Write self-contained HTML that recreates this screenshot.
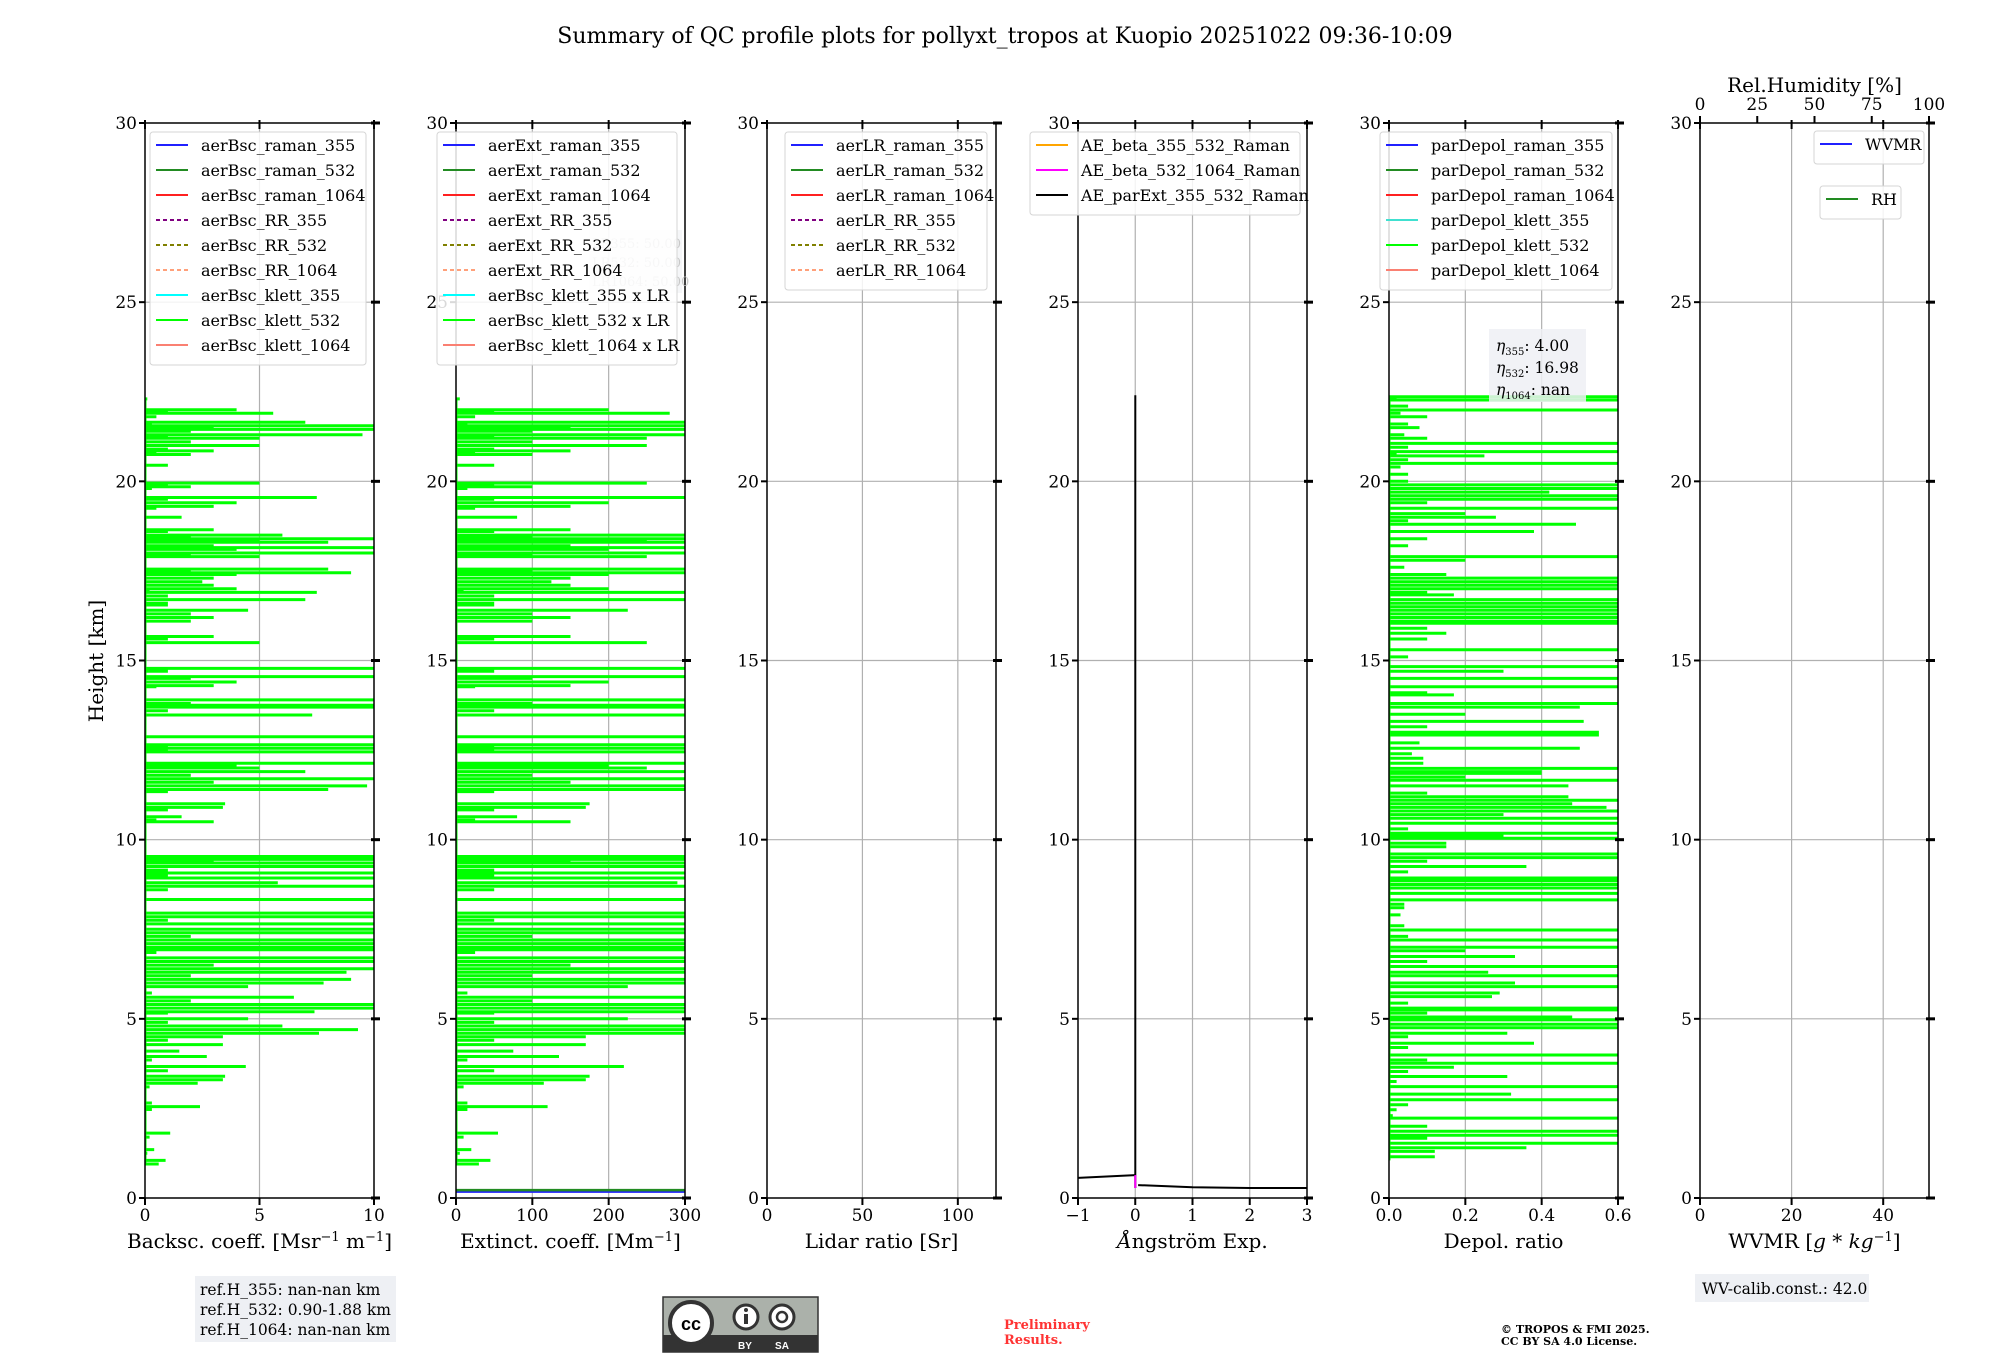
<!DOCTYPE html>
<html><head><meta charset="utf-8">
<style>
html,body{margin:0;padding:0;background:#fff;}
svg{display:block;font-family:"DejaVu Serif","Liberation Serif",serif;}
</style></head>
<body>
<svg id="fig" width="2000" height="1360" viewBox="0 0 2000 1360" xmlns="http://www.w3.org/2000/svg">
<text x="1005" y="43" font-size="22" text-anchor="middle">Summary of QC profile plots for pollyxt_tropos at Kuopio 20251022 09:36-10:09</text>
<text transform="translate(103,661) rotate(-90)" font-size="20" text-anchor="middle">Height [km]</text>
<g id="panels"></g>
<g>
<rect x="195" y="1276" width="201" height="66" fill="#eef0f4"/>
<text x="200" y="1295" font-size="15.5">ref.H_355: nan-nan km</text>
<text x="200" y="1315" font-size="15.5">ref.H_532: 0.90-1.88 km</text>
<text x="200" y="1335" font-size="15.5">ref.H_1064: nan-nan km</text>
</g>
<g>
<rect x="663" y="1297" width="155" height="55" fill="#abb1aa" stroke="#333" stroke-width="1.5"/>
<rect x="663" y="1335" width="155" height="17" fill="#333"/>
<circle cx="691" cy="1323" r="21" fill="#fff" stroke="#333" stroke-width="4"/>
<text x="691" y="1330" font-size="18" font-weight="bold" text-anchor="middle" font-family="Liberation Sans">cc</text>
<circle cx="746" cy="1317" r="12" fill="#fff" stroke="#333" stroke-width="3"/>
<rect x="744" y="1314" width="4" height="10" fill="#333"/><circle cx="746" cy="1310" r="2" fill="#333"/>
<circle cx="782" cy="1317" r="12" fill="#fff" stroke="#333" stroke-width="3"/>
<circle cx="782" cy="1317" r="5" fill="none" stroke="#333" stroke-width="2.5"/>
<text x="745" y="1349" font-size="10" fill="#fff" font-weight="bold" text-anchor="middle" font-family="Liberation Sans">BY</text>
<text x="782" y="1349" font-size="10" fill="#fff" font-weight="bold" text-anchor="middle" font-family="Liberation Sans">SA</text>
</g>
<text x="1004" y="1329" font-size="13" font-weight="bold" fill="#ff3333">Preliminary</text>
<text x="1004" y="1344" font-size="13" font-weight="bold" fill="#ff3333">Results.</text>
<text x="1501" y="1333" font-size="11" font-weight="bold">© TROPOS &amp; FMI 2025.</text>
<text x="1501" y="1345" font-size="11" font-weight="bold">CC BY SA 4.0 License.</text>
<g>
<rect x="1695" y="1274" width="174" height="28" fill="#eef0f4"/>
<text x="1702" y="1294" font-size="15.5">WV-calib.const.: 42.0</text>
</g>
</svg>
<script>
// ---- data ----
const bscHeight=[22.3,22.2,22.0,21.95,21.9,21.8,21.65,21.6,21.55,21.5,21.45,21.4,21.3,21.25,21.2,21.1,21.0,20.9,20.85,20.8,20.75,20.6,20.45,20.4,20.0,19.95,19.9,19.85,19.8,19.6,19.55,19.5,19.4,19.3,19.25,19.0,18.9,18.7,18.65,18.6,18.5,18.45,18.4,18.35,18.3,18.2,18.15,18.1,18.0,17.95,17.9,17.8,17.6,17.55,17.5,17.45,17.4,17.3,17.2,17.1,17.0,16.95,16.9,16.8,16.7,16.6,16.55,16.4,16.3,16.2,16.1,16.0,15.7,15.67,15.6,15.5,15.45,14.9,14.78,14.7,14.55,14.5,14.4,14.3,14.27,14.0,13.9,13.8,13.75,13.7,13.6,13.48,13.4,12.95,12.87,12.8,12.65,12.6,12.55,12.5,12.45,12.4,12.2,12.13,12.05,12.0,11.9,11.8,11.7,11.6,11.5,11.4,11.34,11.1,11.0,10.9,10.83,10.64,10.55,10.5,10.45,9.6,9.53,9.45,9.4,9.35,9.25,9.15,9.07,9.0,8.93,8.8,8.7,8.6,8.5,8.33,8.25,7.95,7.85,7.75,7.65,7.5,7.4,7.3,7.2,7.1,7.0,6.93,6.85,6.7,6.6,6.5,6.4,6.3,6.2,6.1,6.0,5.9,5.72,5.6,5.5,5.4,5.3,5.2,5.16,5.0,4.9,4.8,4.7,4.6,4.5,4.4,4.28,4.1,3.95,3.85,3.67,3.55,3.4,3.3,3.2,3.1,2.65,2.55,2.47,2.2,1.81,1.7,1.35,1.25,1.05,0.95];
const bscValue=[0.1,0,4,1,5.6,0.5,7,0.3,10,3,10,2,9.5,1,5,2,5,1,3,0.5,2,0,1,0,0,5,1,2,0.3,0,7.5,1,4,3,0.5,1.6,0,0,3,1,6,2,10,5,8,3,10,4,10,2,5,0,0,8,2,9,4,3,2.5,3,4,0.2,7.5,1,7,1,1,4.5,2,3,2,0,0,3,1,5,0,0,10,1,10,2,4,3,0.5,0,10,2,10,10,1,7.3,0,0,10,0,10,1,10,1,10,0,0,10,4,5,7,2,10,3,9.7,8,1,0,3.5,3.4,1,1.6,0.5,3,0,0,10,10,3,10,10,1,10,1,10,5.8,10,1,0,10,0,10,10,1,10,10,10,2,10,10,10,10,0.5,10,10,3,10,8.8,2,9,7.8,4.5,0.3,6.5,2,10,10,7.4,1,4.5,1,6,9.3,7.6,3.4,1,3.4,1.5,2.7,0.3,4.4,1,3.5,3.4,2.3,0.2,0.3,2.4,0.3,0,1.1,0.2,0.4,0.1,0.9,0.6];
const lidarRatio=[50,50,50];
const ramanExtHeight=[0.22,0.22];
const ramanExtValue=[0,300];
const aeLeftHeight=[0.56,0.64];
const aeLeftValue=[-1,0];
const aeVertHeight=[22.4,0.28];
const aeVertValue=[0,0];
const aeRightHeight=[0.36,0.3,0.28,0.28];
const aeRightValue=[0.05,1,2,3];
const ae1064Height=[0.64,0.28];
const ae1064Value=[0,0];
const depHeight=[22.36,22.3,22.27,22.1,21.99,21.9,21.8,21.6,21.5,21.3,21.2,21.06,20.95,20.83,20.75,20.71,20.6,20.5,20.4,20.2,20.0,19.9,19.8,19.7,19.6,19.5,19.4,19.25,19.1,19.0,18.9,18.8,18.6,18.4,18.2,17.9,17.8,17.6,17.4,17.3,17.2,17.1,17.0,16.9,16.83,16.7,16.6,16.5,16.4,16.3,16.2,16.1,16.04,15.9,15.76,15.6,15.3,15.1,14.83,14.7,14.5,14.27,14.1,14.04,13.8,13.7,13.5,13.3,13.15,13.0,12.92,12.7,12.55,12.4,12.27,12.13,11.99,11.9,11.85,11.75,11.66,11.5,11.3,11.2,11.1,11.0,10.9,10.8,10.7,10.6,10.46,10.3,10.18,10.1,10.04,9.9,9.8,9.6,9.5,9.4,9.25,9.1,8.93,8.85,8.75,8.65,8.5,8.32,8.2,8.1,7.9,7.6,7.48,7.3,7.2,7.0,6.9,6.74,6.6,6.46,6.3,6.2,6.0,5.9,5.72,5.62,5.44,5.3,5.25,5.16,5.05,4.97,4.85,4.75,4.6,4.5,4.32,4.2,3.99,3.85,3.76,3.65,3.53,3.39,3.25,3.11,2.9,2.74,2.6,2.46,2.3,2.23,2.0,1.86,1.75,1.67,1.53,1.4,1.3,1.15,1.05,0.93];
const depValue=[0.6,0.02,0.6,0.05,0.6,0.03,0.1,0.05,0.08,0.04,0.1,0.6,0.05,0.6,0.02,0.25,0.05,0.6,0.03,0.05,0.05,0.6,0.6,0.42,0.6,0.6,0.1,0.6,0.2,0.28,0.05,0.49,0.38,0.1,0.05,0.6,0.2,0.04,0.15,0.6,0.6,0.6,0.6,0.1,0.17,0.6,0.6,0.6,0.6,0.6,0.6,0.6,0.6,0.1,0.15,0.1,0.6,0.05,0.6,0.3,0.6,0.6,0.1,0.17,0.6,0.5,0.2,0.51,0.1,0.55,0.55,0.08,0.5,0.06,0.09,0.09,0.6,0.4,0.4,0.2,0.6,0.47,0.1,0.47,0.6,0.48,0.57,0.6,0.3,0.6,0.6,0.05,0.6,0.3,0.6,0.15,0.15,0.6,0.6,0.1,0.36,0.05,0.6,0.6,0.6,0.6,0.6,0.6,0.04,0.04,0.03,0.04,0.6,0.05,0.6,0.6,0.2,0.33,0.1,0.6,0.26,0.6,0.33,0.6,0.29,0.27,0.05,0.6,0.6,0.1,0.48,0.6,0.6,0.6,0.31,0.05,0.38,0.05,0.6,0.1,0.6,0.17,0.05,0.31,0.02,0.6,0.32,0.6,0.05,0.02,0.01,0.6,0.1,0.6,0.6,0.1,0.6,0.36,0.12,0.12];
const yTicks=[0,5,10,15,20,25,30];
const bscTicks=[0,5,10];
const extTicks=[0,100,200,300];
const lrTicks=[0,50,100];
const aeTicks=[-1,0,1,2,3];
const depTicks=[0,0.2,0.4,0.6];
const depTickLabels=["0.0","0.2","0.4","0.6"];
const wvTicks=[0,20,40];
const rhTicks=[0,25,50,75,100];

// ---- layout ----
const NS="http://www.w3.org/2000/svg";
const TOP=123,BOT=1198,W=229,H0=0,H1=30;
const LEFTS=[145,456,767,1078,1389,1700];
const root=document.getElementById('panels');
function mk(tag,attrs,parent){const e=document.createElementNS(NS,tag);for(const k in attrs)e.setAttribute(k,attrs[k]);(parent||root).appendChild(e);return e;}
function yS(h){return BOT-(h-H0)/(H1-H0)*(BOT-TOP);}

function panel(i,xmin,xmax,ticks,labels,xlabel,name){
  const L=LEFTS[i],R=L+W;
  const g=mk('g',{});
  
  
  const xS=v=>L+(v-xmin)/(xmax-xmin)*W;
  yTicks.forEach(t=>{if(t>0&&t<30){const l=mk('line',{x1:L,x2:R,y1:yS(t),y2:yS(t),stroke:'#b0b0b0','stroke-width':1.2},g);}});
  ticks.forEach(t=>{const x=xS(t);if(x>L+1&&x<R-1){const l=mk('line',{x1:x,x2:x,y1:TOP,y2:BOT,stroke:'#b0b0b0','stroke-width':1.2},g);}});
  const clip=mk('clipPath',{id:'clip'+i},g);mk('rect',{x:L,y:TOP,width:W,height:BOT-TOP},clip);
  const plot=mk('g',{'clip-path':'url(#clip'+i+')'},g);
  const frame=mk('rect',{x:L,y:TOP,width:W,height:BOT-TOP,fill:'none',stroke:'#000','stroke-width':1.5},g);
  
  yTicks.forEach(t=>{const y=yS(t);
    mk('line',{x1:L-6,x2:L,y1:y,y2:y,stroke:'#000','stroke-width':2},g);
    mk('line',{x1:R-3,x2:R+6,y1:y,y2:y,stroke:'#000','stroke-width':3},g);
    const tx=mk('text',{x:L-8,y:y+6,'font-size':17,'text-anchor':'end'},g);tx.textContent=t;
    });
  ticks.forEach((t,k)=>{const x=xS(t);
    mk('line',{x1:x,x2:x,y1:BOT,y2:BOT+7,stroke:'#000','stroke-width':2},g);
    mk('line',{x1:x,x2:x,y1:TOP-3,y2:TOP+6,stroke:'#000','stroke-width':2},g);
    const tx=mk('text',{x:x,y:BOT+23,'font-size':17,'text-anchor':'middle'},g);tx.textContent=labels[k];
    });
  const xl=mk('text',{x:L+W/2,y:BOT+50,'font-size':20,'text-anchor':'middle'},g);
  xl.innerHTML=xlabel;
  return {g,plot,xS,L,R,xmin};
}
function line(p,hs,vs,color,w,name){
  const pts=hs.map((h,k)=>p.xS(vs[k]).toFixed(1)+','+yS(h).toFixed(1)).join(' ');
  const e=mk('polyline',{points:pts,fill:'none',stroke:color,'stroke-width':w,'stroke-linejoin':'miter'},p.plot);
  
  
  return e;
}
// spiky profile: horizontal spike at each height, joined along the axis baseline
function profile(p,hs,vs,color,w,name){
  const base=p.xS(p.xmin).toFixed(1);
  let d='';
  for(let k=0;k<hs.length;k++){
    const y=yS(hs[k]).toFixed(1);
    d+=(k===0?'M':' L')+base+','+y+' H'+p.xS(vs[k]).toFixed(1)+' H'+base;
  }
  const e=mk('path',{d:d,fill:'none',stroke:color,'stroke-width':w},p.plot);
  
  
  return e;
}
function legend(p,x,y,w,items,name){
  const g=mk('g',{},p.g);
  
  
  mk('rect',{x:x,y:y,width:w,height:items.length*25+8,rx:3,fill:'#fff','fill-opacity':0.85,stroke:'#d5d5d5'},g);
  items.forEach((it,k)=>{const cy=y+13+k*25;
    const l=mk('line',{x1:x+6,x2:x+38,y1:cy,y2:cy,stroke:it[1],'stroke-width':2},g);
    if(it[2])l.setAttribute('stroke-dasharray','4,3');
    const t=mk('text',{x:x+51,y:cy+6,'font-size':16},g);t.textContent=it[0];
    });
}
const sup=s=>'<tspan baseline-shift="super" font-size="13">'+s+'</tspan>';

// panel 1
const p1=panel(0,0,10,bscTicks,bscTicks.map(String),'Backsc. coeff. [Msr'+sup('−1')+' m'+sup('−1')+']','backscatter');
profile(p1,bscHeight,bscValue,'#00ff00',3,'bsc-klett-532-line');
legend(p1,150,132,216,[['aerBsc_raman_355','#2020ff'],['aerBsc_raman_532','#228b22'],['aerBsc_raman_1064','#ff2020'],['aerBsc_RR_355','#800080',1],['aerBsc_RR_532','#808000',1],['aerBsc_RR_1064','#ffa07a',1],['aerBsc_klett_355','#00ffff'],['aerBsc_klett_532','#00ff00'],['aerBsc_klett_1064','#fa8072']],'backscatter-legend');

// panel 2
const p2=panel(1,0,300,extTicks,extTicks.map(String),'Extinct. coeff. [Mm'+sup('−1')+']','extinction');
profile(p2,bscHeight,bscValue.map(v=>v*lidarRatio[1]),'#00ff00',3,'ext-klett-532-line');
line(p2,ramanExtHeight.map(h=>h-0.05),ramanExtValue,'#2020ff',2,'ext-raman-355-line');
line(p2,ramanExtHeight,ramanExtValue,'#228b22',2.5,'ext-raman-532-line');
(function(){const g=mk('g',{},p2.g);
 mk('rect',{x:589,y:230,width:93,height:63,fill:'#eef0f4','fill-opacity':0.6},g);
 ['LR355: 50.00','LR532: 50.00','LR1064: 50.00'].forEach((s,k)=>{const t=mk('text',{x:592,y:248+k*19,'font-size':13,fill:'#c8c8c8'},g);t.textContent=s;});})();
legend(p2,437,132,240,[['aerExt_raman_355','#2020ff'],['aerExt_raman_532','#228b22'],['aerExt_raman_1064','#ff2020'],['aerExt_RR_355','#800080',1],['aerExt_RR_532','#808000',1],['aerExt_RR_1064','#ffa07a',1],['aerBsc_klett_355 x LR','#00ffff'],['aerBsc_klett_532 x LR','#00ff00'],['aerBsc_klett_1064 x LR','#fa8072']],'extinction-legend');

// panel 3
const p3=panel(2,0,120,lrTicks,lrTicks.map(String),'Lidar ratio [Sr]','lidar-ratio');
legend(p3,785,132,202,[['aerLR_raman_355','#2020ff'],['aerLR_raman_532','#228b22'],['aerLR_raman_1064','#ff2020'],['aerLR_RR_355','#800080',1],['aerLR_RR_532','#808000',1],['aerLR_RR_1064','#ffa07a',1]],'lidar-ratio-legend');

// panel 4
const p4=panel(3,-1,3,aeTicks,aeTicks.map(t=>t<0?'−1':String(t)),'<tspan font-style="italic">Å</tspan>ngström Exp.','angstrom');
line(p4,aeLeftHeight,aeLeftValue,'#000',2,'ae-parext-line');
line(p4,aeVertHeight,aeVertValue,'#000',2,'ae-parext-vertical');
line(p4,ae1064Height,ae1064Value,'#ff00ff',2,'ae-beta-532-1064-line');
line(p4,aeRightHeight,aeRightValue,'#000',2,'ae-parext-line-2');
legend(p4,1030,132,270,[['AE_beta_355_532_Raman','#ffa500'],['AE_beta_532_1064_Raman','#ff00ff'],['AE_parExt_355_532_Raman','#000']],'angstrom-legend');

// panel 5
const p5=panel(4,0,0.6,depTicks,depTickLabels,'Depol. ratio','depol');
profile(p5,depHeight,depValue,'#00ff00',3,'pardepol-klett-532-line');
legend(p5,1380,132,232,[['parDepol_raman_355','#2020ff'],['parDepol_raman_532','#228b22'],['parDepol_raman_1064','#ff2020'],['parDepol_klett_355','#40e0d0'],['parDepol_klett_532','#00ff00'],['parDepol_klett_1064','#fa8072']],'depol-legend');
(function(){const g=mk('g',{},p5.g);
 mk('rect',{x:1489,y:329,width:97,height:73,fill:'#eef0f4','fill-opacity':0.85},g);
 [['355','4.00'],['532','16.98'],['1064','nan']].forEach((s,k)=>{const t=mk('text',{x:1496,y:351+k*22,'font-size':15.5},g);
 t.innerHTML='<tspan font-style="italic">η</tspan><tspan font-size="10" dy="4">'+s[0]+'</tspan><tspan dy="-4">: '+s[1]+'</tspan>';});})();

// panel 6
const p6=panel(5,0,50,wvTicks,wvTicks.map(String),'WVMR [<tspan font-style="italic">g</tspan> * <tspan font-style="italic">kg</tspan>'+sup('−1')+']','wvmr');
(function(){const L=LEFTS[5];const g=mk('g',{},p6.g);
 rhTicks.forEach(t=>{const x=L+t/100*W;mk('line',{x1:x,x2:x,y1:TOP-7,y2:TOP,stroke:'#000','stroke-width':2},g);
  const tx=mk('text',{x:x,y:TOP-13,'font-size':17,'text-anchor':'middle'},g);tx.textContent=t;});
 const tt=mk('text',{x:L+W/2,y:TOP-31,'font-size':20,'text-anchor':'middle'},g);tt.textContent='Rel.Humidity [%]';})();
legend(p6,1814,131,110,[['WVMR','#2020ff']],'wvmr-legend');
legend(p6,1820,186,81,[['RH','#228b22']],'rh-legend');
</script>
</body></html>
